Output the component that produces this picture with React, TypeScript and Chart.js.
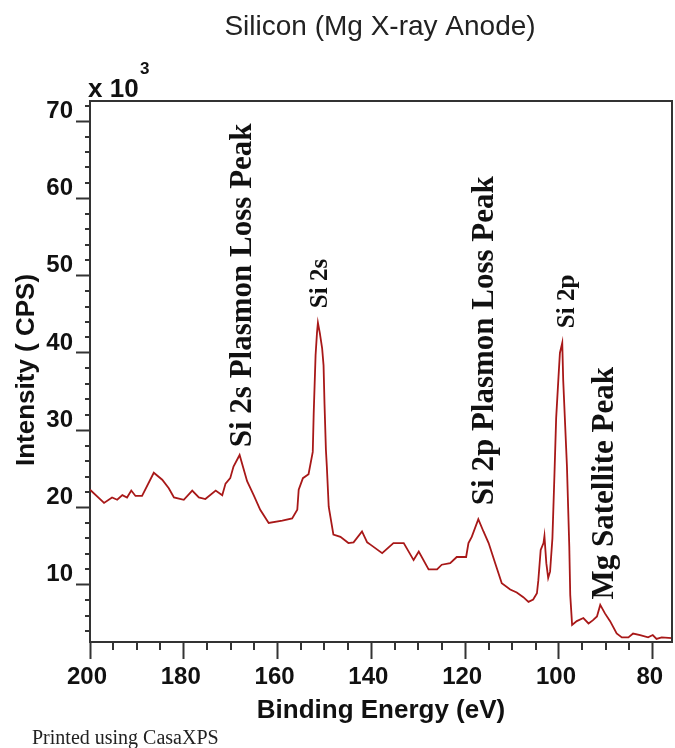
import { useEffect, useRef } from "react";
import { Chart, registerables } from "chart.js";

Chart.register(...registerables);

// Binding energy (eV) of each sample point, high to low.
const bindingEnergy = [
  200.0, 197.0, 195.3, 194.2, 193.1, 192.1, 191.2, 190.3, 188.9, 186.4,
  184.6, 183.2, 182.1, 180.0, 178.2, 176.8, 175.4, 173.2, 171.8, 171.1,
  170.1, 169.4, 168.1, 166.5, 165.1, 163.7, 161.9, 159.0, 156.9, 155.8,
  155.5, 154.6, 153.4, 152.5, 152.3, 151.9, 151.6, 151.4, 151.0, 150.5,
  150.2, 150.0, 149.7, 149.5, 149.1, 148.1, 146.6, 144.9, 143.8, 142.0,
  140.9, 140.2, 137.7, 135.3, 133.1, 131.0, 129.9, 127.8, 126.0, 125.0,
  123.2, 121.8, 119.8, 119.3, 118.6, 117.2, 116.1, 115.0, 113.6, 112.2,
  110.4, 109.0, 107.6, 106.5, 105.5, 104.7, 104.4, 103.9, 103.3, 103.1,
  102.7, 102.3, 101.9, 101.4, 101.0, 100.6, 100.1, 99.8, 99.3, 99.1,
  98.3, 97.8, 97.6, 97.2, 96.2, 94.8, 93.7, 92.8, 91.9, 91.2,
  90.2, 89.1, 87.7, 86.6, 85.2, 84.2, 82.7, 81.0, 80.0, 79.2,
  78.1, 75.9,
];

// Intensity in units of 10^3 counts per second.
const intensityK = [
  22.3, 20.6, 21.3, 21.0, 21.6, 21.3, 22.2, 21.5, 21.5, 24.5,
  23.6, 22.5, 21.3, 21.0, 22.2, 21.3, 21.1, 22.2, 21.6, 23.1,
  23.8, 25.3, 26.8, 23.4, 21.6, 19.7, 18.0, 18.3, 18.6, 19.7,
  22.3, 23.8, 24.3, 27.2, 32.2, 39.7, 42.6, 43.9, 42.6, 40.6,
  38.4, 33.5, 27.5, 25.3, 20.1, 16.5, 16.2, 15.4, 15.5, 16.9,
  15.5, 15.2, 14.1, 15.4, 15.4, 13.2, 14.3, 12.0, 12.0, 12.6,
  12.8, 13.6, 13.6, 15.4, 16.2, 18.5, 16.9, 15.4, 12.8, 10.2,
  9.4, 9.0, 8.4, 7.8, 8.1, 8.9, 10.6, 14.5, 15.4, 16.3,
  12.8, 10.9, 11.7, 16.0, 23.6, 31.6, 36.9, 40.0, 41.3, 36.5,
  25.3, 14.9, 8.7, 4.8, 5.3, 5.7, 5.0, 5.4, 5.9, 7.4,
  6.3, 5.3, 3.7, 3.2, 3.2, 3.7, 3.5, 3.2, 3.5, 3.0,
  3.2, 3.1,
];

const energyRange = [75.9, 200];
const intensityRange = [2.6, 72.6];
const energyMajorTicks = [200, 180, 160, 140, 120, 100, 80];
const energyMinorTicks = [195, 190, 185, 175, 170, 165, 155, 150, 145, 135, 130, 125, 115, 110, 105, 95, 90, 85];
const intensityMajorTicks = [10, 20, 30, 40, 50, 60, 70];
const intensityMinorTicks = [4, 6, 8, 12, 14, 16, 18, 22, 24, 26, 28, 32, 34, 36, 38, 42, 44, 46, 48, 52, 54, 56, 58, 62, 64, 66, 68, 72];

// Peak annotations: text, and where its baseline starts (eV, 10^3 CPS).
const peakNames = ["Si 2s Plasmon Loss Peak", "Si 2s", "Si 2p Plasmon Loss Peak", "Si 2p", "Mg Satellite Peak"];
const peakNameEnergy = [165.6, 149.5, 114.0, 96.8, 88.4];
const peakNameIntensity = [27.8, 45.8, 20.3, 43.2, 8.1];

const SANS = "'Liberation Sans', Arial, sans-serif";
const SERIF = "'Liberation Serif', 'Times New Roman', serif";
const INK = "#111";
const FRAME = "#333";

const decorations = {
  id: "decorations",
  afterDraw(chart: any) {
    const { ctx, chartArea: a } = chart;
    const x = chart.scales.x;
    const y = chart.scales.y;
    ctx.save();

    // top and right frame
    ctx.strokeStyle = FRAME;
    ctx.lineWidth = 2;
    ctx.beginPath();
    ctx.moveTo(a.left, a.top);
    ctx.lineTo(a.right, a.top);
    ctx.lineTo(a.right, a.bottom);
    ctx.stroke();

    // minor ticks
    ctx.beginPath();
    energyMinorTicks.forEach((v) => {
      const px = Math.round(x.getPixelForValue(v));
      ctx.moveTo(px, a.bottom);
      ctx.lineTo(px, a.bottom + 8);
    });
    intensityMinorTicks.forEach((v) => {
      const py = Math.round(y.getPixelForValue(v));
      ctx.moveTo(a.left, py);
      ctx.lineTo(a.left - 5, py);
    });
    ctx.stroke();

    // title
    ctx.fillStyle = "#222";
    ctx.font = `28px ${SANS}`;
    ctx.textAlign = "center";
    ctx.textBaseline = "alphabetic";
    ctx.fillText("Silicon (Mg X-ray Anode)", 380, 35);

    // multiplier
    ctx.fillStyle = INK;
    ctx.textAlign = "left";
    ctx.font = `bold 26px ${SANS}`;
    ctx.fillText("x 10", 88, 97);
    ctx.font = `bold 17px ${SANS}`;
    ctx.fillText("3", 140, 74);

    // axis titles
    ctx.font = `bold 26px ${SANS}`;
    ctx.textAlign = "center";
    ctx.fillText("Binding Energy (eV)", 381, 718);
    ctx.save();
    ctx.translate(34, 370);
    ctx.rotate(-Math.PI / 2);
    ctx.fillText("Intensity ( CPS)", 0, 0);
    ctx.restore();

    // peak annotations, reading upward
    ctx.textAlign = "left";
    peakNames.forEach((name, i) => {
      const px = x.getPixelForValue(peakNameEnergy[i]);
      const py = y.getPixelForValue(peakNameIntensity[i]);
      ctx.save();
      ctx.translate(px, py);
      ctx.rotate(-Math.PI / 2);
      ctx.font = `bold ${name.length > 6 ? 31 : 25}px ${SERIF}`;
      ctx.fillStyle = INK;
      ctx.fillText(name, 0, 0);
      ctx.restore();
    });

    // footer
    ctx.font = `20px ${SERIF}`;
    ctx.fillStyle = "#222";
    ctx.fillText("Printed using CasaXPS", 32, 744);

    ctx.restore();
  },
};

export default function App() {
  const canvasRef = useRef<HTMLCanvasElement | null>(null);

  useEffect(() => {
    const canvas = canvasRef.current;
    if (!canvas) return;
    const chart = new Chart(canvas, {
      type: "scatter",
      data: {
        datasets: [
          {
            data: bindingEnergy.map((e, i) => ({ x: e, y: intensityK[i] })),
            showLine: true,
            borderColor: "#a81818",
            borderWidth: 1.8,
            pointRadius: 0,
            tension: 0,
          },
        ],
      },
      options: {
        animation: false,
        responsive: false,
        devicePixelRatio: 1,
        layout: { padding: { left: 0, top: 101, right: 3, bottom: 0 } },
        plugins: { legend: { display: false }, tooltip: { enabled: false }, title: { display: false } },
        scales: {
          x: {
            type: "linear",
            reverse: true,
            min: energyRange[0],
            max: energyRange[1],
            afterBuildTicks: (s: any) => {
              s.ticks = energyMajorTicks.map((value) => ({ value }));
            },
            afterFit: (s: any) => {
              s.height = 106;
              s.paddingLeft = 0;
              s.paddingRight = 0;
            },
            grid: { drawOnChartArea: false, drawTicks: true, tickLength: 17, tickColor: FRAME, tickWidth: 2 },
            border: { display: true, color: FRAME, width: 2 },
            ticks: {
              color: INK,
              font: { family: SANS, size: 24, weight: "bold" },
              padding: 4,
              labelOffset: -3,
              maxRotation: 0,
              autoSkip: false,
              callback: (v: any) => String(v),
            },
          },
          y: {
            type: "linear",
            min: intensityRange[0],
            max: intensityRange[1],
            afterBuildTicks: (s: any) => {
              s.ticks = intensityMajorTicks.map((value) => ({ value }));
            },
            afterFit: (s: any) => {
              s.width = 90;
              s.paddingTop = 0;
              s.paddingBottom = 0;
            },
            grid: { drawOnChartArea: false, drawTicks: true, tickLength: 14, tickColor: FRAME, tickWidth: 2 },
            border: { display: true, color: FRAME, width: 2 },
            ticks: {
              color: INK,
              font: { family: SANS, size: 24, weight: "bold" },
              padding: 3,
              labelOffset: -10,
              autoSkip: false,
              callback: (v: any) => String(v),
            },
          },
        },
      },
      plugins: [decorations],
    });
    return () => chart.destroy();
  }, []);

  return (
    <div style={{ position: "fixed", left: 0, top: 0, width: 675, height: 748, background: "#fff" }}>
      <canvas ref={canvasRef} width={675} height={748} style={{ width: 675, height: 748, display: "block" }} />
    </div>
  );
}
